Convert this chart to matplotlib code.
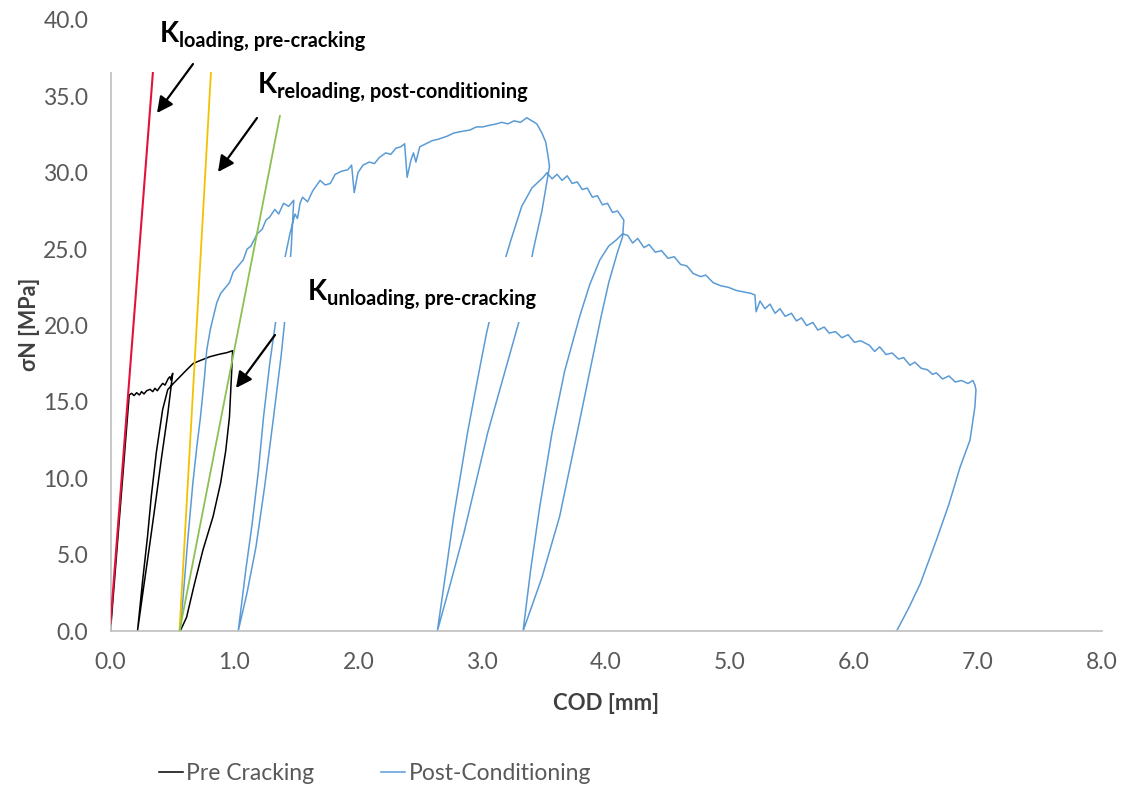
import matplotlib
matplotlib.use('Agg')
import matplotlib.pyplot as plt
from matplotlib.patches import Rectangle, FancyArrowPatch

# ---------------- data ----------------
pre_x = [0.0, 0.151, 0.171, 0.190, 0.211, 0.233, 0.251, 0.270, 0.292, 0.319, 0.341, 0.359, 0.378,
         0.400, 0.421, 0.440, 0.467, 0.480, 0.488, 0.502,
         0.462, 0.411, 0.370, 0.319, 0.268, 0.218,
         0.258, 0.299, 0.329, 0.370, 0.421, 0.462, 0.507,
         0.561, 0.614, 0.668, 0.722, 0.803, 0.884, 0.938, 0.986,
         0.975, 0.960, 0.930, 0.889, 0.828, 0.746, 0.675, 0.614, 0.563]
pre_y = [0.0, 15.45, 15.56, 15.41, 15.60, 15.45, 15.67, 15.52, 15.73, 15.82, 15.67, 15.89, 15.73,
         15.99, 16.21, 16.10, 16.54, 16.65, 16.43, 16.87,
         14.2, 11.3, 8.8, 5.8, 2.9, 0.0,
         3.2, 6.2, 8.8, 11.7, 14.5, 15.8, 16.2,
         16.65, 17.09, 17.52, 17.70, 17.96, 18.13, 18.22, 18.35,
         16.5, 14.0, 11.8, 9.7, 7.5, 5.3, 3.0, 0.9, 0.0]

post_x = [0.563, 0.594, 0.624, 0.665, 0.696, 0.726, 0.757, 0.777, 0.807, 0.828, 0.858, 0.889,
          0.919, 0.960, 0.990, 1.021, 1.072, 1.102, 1.133, 1.184, 1.224, 1.255, 1.285, 1.326,
          1.357, 1.397, 1.438, 1.479,
          1.458, 1.428, 1.377, 1.316, 1.245, 1.174, 1.102, 1.031,
          1.092, 1.143, 1.194, 1.235, 1.285, 1.346, 1.397, 1.448, 1.489, 1.509, 1.530, 1.550,
          1.591, 1.631, 1.692, 1.733, 1.774, 1.814, 1.865, 1.916, 1.946, 1.967, 1.997, 2.038,
          2.089, 2.130, 2.170, 2.221, 2.262, 2.302, 2.343, 2.374, 2.394, 2.424, 2.445, 2.465,
          2.496, 2.547, 2.597, 2.648, 2.719, 2.770, 2.831, 2.902, 2.953, 3.004, 3.055, 3.116,
          3.157, 3.208, 3.258, 3.309, 3.360, 3.401, 3.441, 3.482, 3.513, 3.533, 3.543,
          3.482, 3.411, 3.309, 3.177, 3.045, 2.852, 2.750, 2.638,
          2.709, 2.770, 2.882, 2.963, 3.035, 3.136, 3.228, 3.319, 3.401, 3.492,
          3.523, 3.564, 3.604, 3.645, 3.686, 3.726, 3.767, 3.808, 3.848, 3.889, 3.930, 3.970,
          4.011, 4.052, 4.092, 4.143,
          4.133, 4.092, 4.021, 3.960, 3.869, 3.767, 3.625, 3.482, 3.330,
          3.391, 3.462, 3.564, 3.665, 3.787, 3.869, 3.950, 4.021, 4.082, 4.133,
          4.174, 4.214, 4.255, 4.306, 4.347, 4.397, 4.448, 4.499, 4.550, 4.601, 4.652, 4.703,
          4.764, 4.804, 4.865, 4.926, 4.987, 5.048, 5.109, 5.170, 5.201, 5.211, 5.242, 5.282,
          5.323, 5.364, 5.404, 5.445, 5.496, 5.536, 5.577, 5.618, 5.669, 5.709, 5.760, 5.801,
          5.852, 5.903, 5.953, 6.004, 6.055, 6.126, 6.167, 6.208, 6.259, 6.309, 6.360, 6.401,
          6.452, 6.492, 6.543, 6.594, 6.635, 6.665, 6.716, 6.767, 6.818, 6.869, 6.920, 6.960,
          6.977,
          6.985, 6.977, 6.937, 6.856, 6.767, 6.668, 6.536, 6.442, 6.345]
post_y = [0.0, 3.0, 6.0, 9.7, 12.0, 14.0, 16.5, 18.4, 19.8, 20.5, 21.5, 22.1,
          22.4, 22.8, 23.5, 23.8, 24.3, 25.0, 25.2, 26.0, 26.3, 26.9, 27.1, 27.6,
          27.3, 28.0, 27.8, 28.2,
          25.0, 22.0, 18.0, 14.0, 9.5, 5.5, 2.5, 0.0,
          4.0, 7.0, 10.5, 14.0, 17.5, 21.0, 24.0, 26.0, 27.3, 27.0, 28.0, 28.4,
          28.1, 28.8, 29.5, 29.2, 29.3, 29.9, 30.1, 30.2, 30.5, 28.7, 30.0, 30.5,
          30.7, 30.6, 31.0, 31.3, 31.2, 31.6, 31.7, 31.9, 29.7, 30.8, 31.3, 30.7,
          31.7, 31.9, 32.1, 32.2, 32.4, 32.6, 32.7, 32.8, 33.0, 33.0, 33.1, 33.2,
          33.3, 33.2, 33.4, 33.3, 33.6, 33.4, 33.2, 32.6, 32.0, 31.0, 30.4,
          27.5, 24.9, 20.6, 16.8, 13.0, 6.4, 3.3, 0.0,
          4.0, 7.5, 13.0, 16.5, 19.5, 23.0, 25.5, 27.8, 29.0, 29.7,
          30.0, 29.6, 29.9, 29.5, 29.8, 29.3, 29.4, 28.9, 29.0, 28.4, 28.5, 27.9,
          28.0, 27.4, 27.5, 26.9,
          25.8, 24.8, 22.8, 20.6, 17.0, 13.0, 7.5, 3.5, 0.0,
          4.0, 8.0, 13.0, 17.0, 20.6, 22.7, 24.3, 25.2, 25.6, 26.0,
          25.9, 25.4, 25.7, 25.1, 25.3, 24.8, 24.9, 24.4, 24.5, 24.0, 23.9, 23.4,
          23.2, 23.3, 22.8, 22.6, 22.5, 22.3, 22.2, 22.1, 22.0, 20.9, 21.6, 21.1,
          21.4, 20.8, 21.1, 20.6, 20.8, 20.3, 20.5, 20.0, 20.2, 19.7, 19.9, 19.5,
          19.6, 19.2, 19.4, 18.9, 19.0, 18.7, 18.3, 18.6, 18.1, 18.2, 17.8, 17.9,
          17.4, 17.6, 17.2, 17.1, 16.8, 16.9, 16.5, 16.7, 16.3, 16.4, 16.2, 16.4,
          16.1,
          15.8, 14.7, 12.5, 10.7, 8.3, 6.0, 3.1, 1.5, 0.0]

k_load_x = [0.0, 0.351]
k_load_y = [0.5, 37.5]
k_reload_x = [0.557, 0.817]
k_reload_y = [0.0, 37.5]
k_unload_x = [0.557, 1.386]
k_unload_y = [0.0, 34.5]

x_ticks = [0, 1, 2, 3, 4, 5, 6, 7, 8]
y_ticks = [0, 5, 10, 15, 20, 25, 30, 35, 40]

# ---------------- figure ----------------
W, H = 1125, 790
fig = plt.figure(figsize=(W / 100, H / 100), dpi=100)
fig.patch.set_facecolor('white')
ax = fig.add_axes([110.5 / W, 1 - 631 / H, (1101.7 - 110.5) / W, (631 - 20) / H])

FONT = ['Lato', 'DejaVu Sans']
GREY = '#595959'

l_pre, = ax.plot(pre_x, pre_y, color='black', lw=1.1, zorder=2)
l_post, = ax.plot(post_x, post_y, color='#5B9BD5', lw=1.1, zorder=2)
ax.plot(k_load_x, k_load_y, color='#E3123A', lw=1.5, zorder=3)
ax.plot(k_reload_x, k_reload_y, color='#F2C200', lw=1.3, zorder=3)
ax.plot(k_unload_x, k_unload_y, color='#8CC152', lw=1.3, zorder=3)

ax.set_xlim(0, 8)
ax.set_ylim(0, 40)
ax.set_xticks(x_ticks)
ax.set_yticks(y_ticks)
ax.set_xticklabels([f'{v:.1f}' for v in x_ticks], family=FONT, fontsize=16.5, color=GREY)
ax.set_yticklabels([f'{v:.1f}' for v in y_ticks], family=FONT, fontsize=16.5, color=GREY)
ax.tick_params(axis='both', length=0)
ax.tick_params(axis='x', pad=15)
ax.tick_params(axis='y', pad=16)
for s in ['top', 'right']:
    ax.spines[s].set_visible(False)
for s in ['left', 'bottom']:
    ax.spines[s].set_color('#BFBFBF')
    ax.spines[s].set_linewidth(1.2)


def fp(x, y):
    return (x / W, 1 - y / H)


fig.text(*fp(606, 704), 'COD [mm]', ha='center', va='center', family=FONT,
         fontsize=16, fontweight='bold', color='#404040')
fig.text(*fp(30, 324), 'σN [MPa]', ha='center', va='center', rotation=90, family=FONT,
         fontsize=15.5, fontweight='bold', color='#404040')

# white label boxes
for (x0, y0, x1, y1) in [(105, 0, 375, 72), (255, 72, 600, 115), (258, 257, 560, 322)]:
    r = Rectangle(fp(x0, y1), (x1 - x0) / W, (y1 - y0) / H, transform=fig.transFigure,
                  facecolor='white', edgecolor='none', zorder=5)
    fig.add_artist(r)

# annotation labels
labels = [((160, 42), (179, 47), 'loading, pre-cracking'),
          ((258, 93), (277, 98), 'reloading, post-conditioning'),
          ((308, 300), (327, 305), 'unloading, pre-cracking')]
for (kp, sp, sub) in labels:
    fig.text(*fp(*kp), 'K', ha='left', va='baseline', family=FONT, fontsize=20,
             fontweight='bold', color='black', zorder=7)
    fig.text(*fp(*sp), sub, ha='left', va='baseline', family=FONT, fontsize=14.4,
             fontweight='bold', color='black', zorder=7)

arrows = [((193, 64), (157, 113)), ((257, 118), (218, 172)), ((275, 335), (236, 388))]
for a, b in arrows:
    arr = FancyArrowPatch(fp(*a), fp(*b), transform=fig.transFigure, arrowstyle='-|>',
                          mutation_scale=24, lw=1.6, color='black', zorder=6,
                          shrinkA=0, shrinkB=0)
    fig.add_artist(arr)

leg = fig.legend([l_pre, l_post], ['Pre Cracking', 'Post-Conditioning'], loc='center',
                 bbox_to_anchor=(375 / W, 1 - 774 / H), ncol=2, frameon=False,
                 prop={'family': FONT, 'size': 16.5}, handlelength=1.05, handletextpad=0.15,
                 columnspacing=2.9, labelcolor=GREY)

fig.savefig('out.png', dpi=100)
